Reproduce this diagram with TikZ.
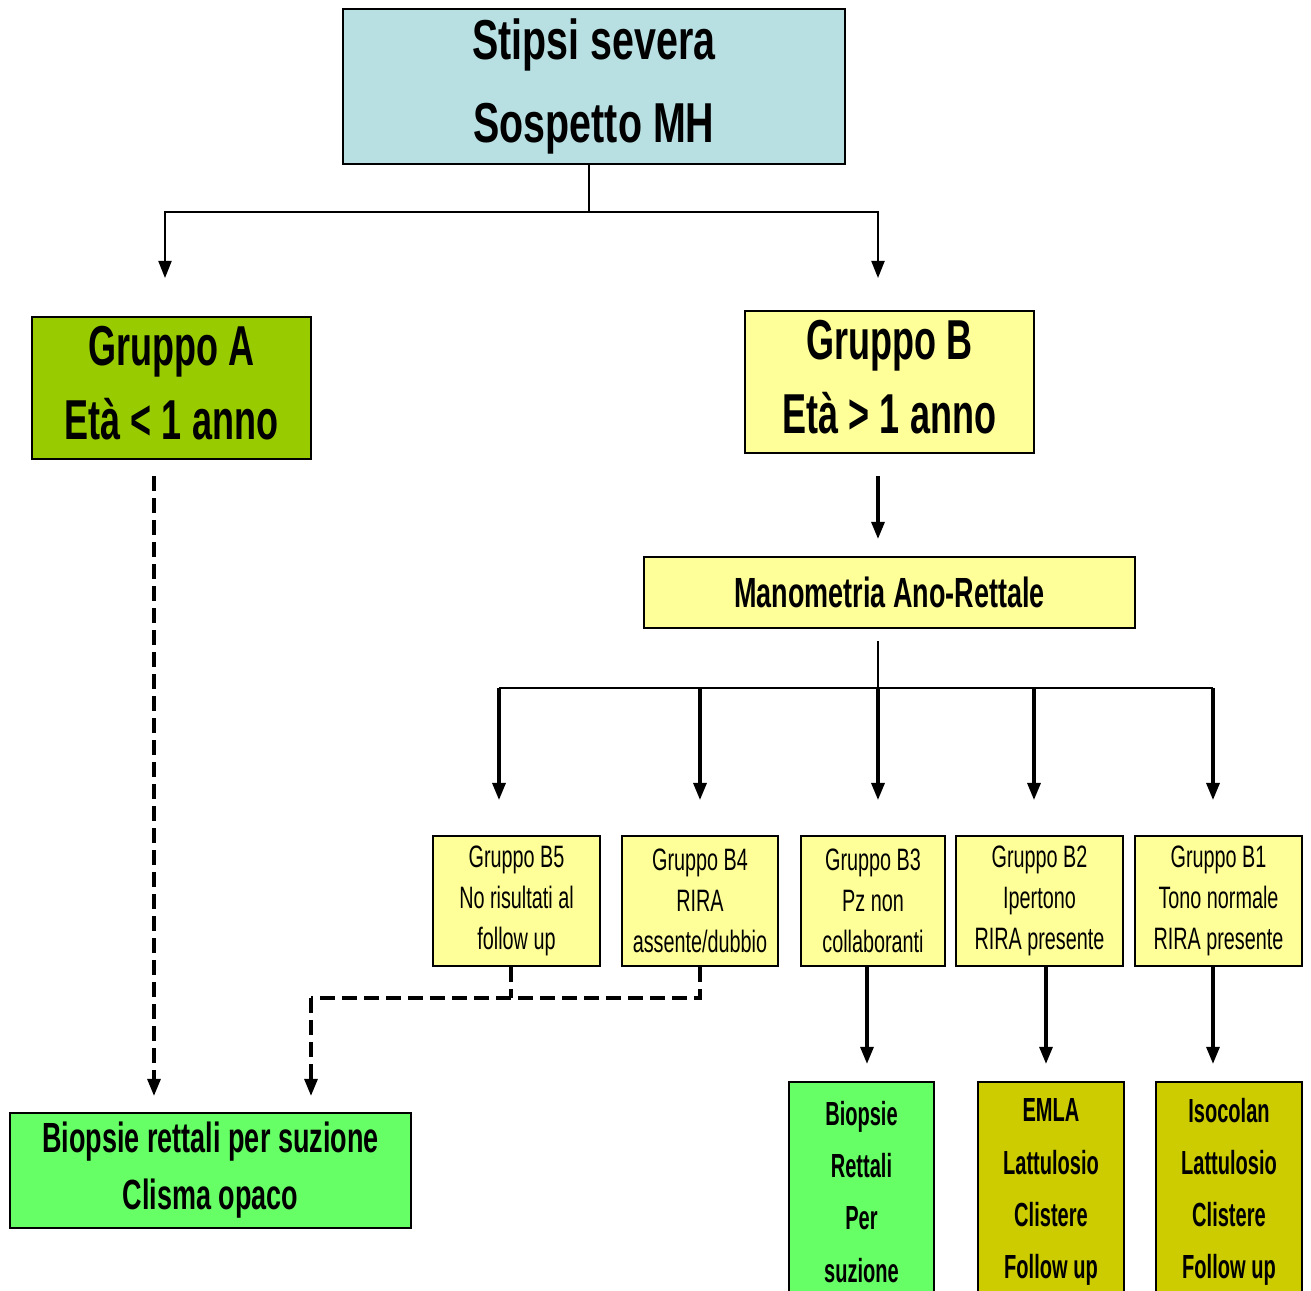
\documentclass[tikz,border=0pt]{standalone}
\usepackage{fontspec}
\setmainfont{Liberation Sans}[FakeStretch=0.64]
\newfontfamily\titolofont{Liberation Sans}[FakeStretch=0.70]
\newfontfamily\curefont{Liberation Sans}[FakeStretch=0.60]
\usetikzlibrary{arrows.meta}
\definecolor{celeste}{HTML}{B8E0E3}
\definecolor{verdeA}{HTML}{99CC00}
\definecolor{giallo}{HTML}{FFFF99}
\definecolor{verdeB}{HTML}{66FF66}
\definecolor{oliva}{HTML}{CCCC00}

\begin{document}
\begin{tikzpicture}[x=0.01cm,y=-0.01cm]
\tikzstyle{box}=[draw,line width=0.6pt,align=center,inner sep=0pt]
\tikzstyle{big}=[font=\titolofont\bfseries\fontsize{16}{23.5}\selectfont]
\tikzstyle{gruppo}=[font=\bfseries\fontsize{16}{21}\selectfont]
\tikzstyle{small}=[font=\fontsize{8.8}{11.7}\selectfont]
\tikzstyle{cure}=[font=\curefont\bfseries\fontsize{9.5}{14.8}\selectfont]
\tikzstyle{arr}=[-{Triangle[length=1.7mm,width=1.3mm]},line width=0.9pt]
\tikzstyle{trat}=[line width=0.9pt,dash pattern=on 0.15cm off 0.07cm]
\useasboundingbox (0,0) rectangle (1311,1291);

\node[box,big,fill=celeste,minimum width=5.02cm,minimum height=1.55cm] (mh) at (594,86.5) {Stipsi severa\\Sospetto MH};
\node[box,gruppo,fill=verdeA,minimum width=2.79cm,minimum height=1.42cm] (ga) at (171.5,388) {Gruppo A\\Età < 1 anno\rule[-3pt]{0pt}{0pt}};
\node[box,gruppo,fill=giallo,minimum width=2.89cm,minimum height=1.42cm] (gb) at (889.5,382) {Gruppo B\\Età > 1 anno\rule[-3pt]{0pt}{0pt}};
\node[box,fill=giallo,minimum width=4.91cm,minimum height=0.71cm,font=\bfseries\fontsize{12}{14}\selectfont] (man) at (889.5,592.5) {Manometria Ano-Rettale};

% sottogruppi B
\node[box,small,fill=giallo,minimum width=1.67cm,minimum height=1.30cm] (b5) at (516.5,901) {Gruppo B5\\No risultati al\\follow up};
\node[box,small,fill=giallo,minimum width=1.56cm,minimum height=1.30cm] (b4) at (700,901) {Gruppo B4\\RIRA\\assente/dubbio};
\node[box,small,fill=giallo,minimum width=1.44cm,minimum height=1.30cm] (b3) at (873,901) {Gruppo B3\\Pz non\\collaboranti};
\node[box,small,fill=giallo,minimum width=1.67cm,minimum height=1.30cm] (b2) at (1039.5,901) {Gruppo B2\\Ipertono\\RIRA presente};
\node[box,small,fill=giallo,minimum width=1.67cm,minimum height=1.30cm] (b1) at (1218.5,901) {Gruppo B1\\Tono normale\\RIRA presente};

\node[box,fill=verdeB,minimum width=4.01cm,minimum height=1.15cm,font=\bfseries\fontsize{12}{16.2}\selectfont] (bio) at (210.5,1170.5) {Biopsie rettali per suzione\\Clisma opaco};
\node[box,cure,fill=verdeB,minimum width=1.45cm,minimum height=2.2cm] (t3) at (861.5,1192) {Biopsie\\Rettali\\Per\\suzione};
\node[box,cure,fill=oliva,minimum width=1.46cm,minimum height=2.2cm] (t2) at (1051,1192) {EMLA\\Lattulosio\\Clistere\\Follow up};
\node[box,cure,fill=oliva,minimum width=1.46cm,minimum height=2.2cm] (t1) at (1229,1192) {Isocolan\\Lattulosio\\Clistere\\Follow up};

% connettori
\coordinate (fork) at (589,212);
\coordinate (ja) at (165,278);
\coordinate (jb) at (878,278);
\draw[line width=0.6pt] (mh.south -| fork) -- (fork);
\draw[arr,line width=0.6pt] (fork) -| (ja);
\draw[arr,line width=0.6pt] (fork) -| (jb);
\draw[arr,shorten <=0.22cm,shorten >=0.17cm] (gb.south -| jb) -- (man.north -| jb);

\coordinate (ram) at (878,688);
\draw[line width=0.6pt,shorten <=0.12cm] (man.south -| ram) -- (ram);
\draw[line width=0.6pt] (499,688) -- (1213,688);
\foreach \x in {499,700,878,1034,1213}
  \draw[arr] (\x,688) -- ++(0,112);

\coordinate (d1) at (311,998);
\draw[trat] ([xshift=-0.055cm]b5.south) -- ([xshift=-0.055cm]b5.south |- d1);
\draw[trat] (b4.south) -- (b4.south |- d1) -- (d1);
\draw[trat,arr,shorten >=0.16cm] (d1) -- (d1 |- bio.north);
\draw[trat,arr,shorten <=0.16cm,shorten >=0.16cm] ([xshift=-0.175cm]ga.south) -- ([xshift=-0.175cm]ga.south |- bio.north);

\draw[arr,shorten >=0.17cm] ([xshift=-0.06cm]b3.south) -- ([xshift=-0.06cm]b3.south |- t3.north);
\draw[arr,shorten >=0.17cm] ([xshift=0.065cm]b2.south) -- ([xshift=0.065cm]b2.south |- t2.north);
\draw[arr,shorten >=0.17cm] ([xshift=-0.055cm]b1.south) -- ([xshift=-0.055cm]b1.south |- t1.north);
\end{tikzpicture}
\end{document}
